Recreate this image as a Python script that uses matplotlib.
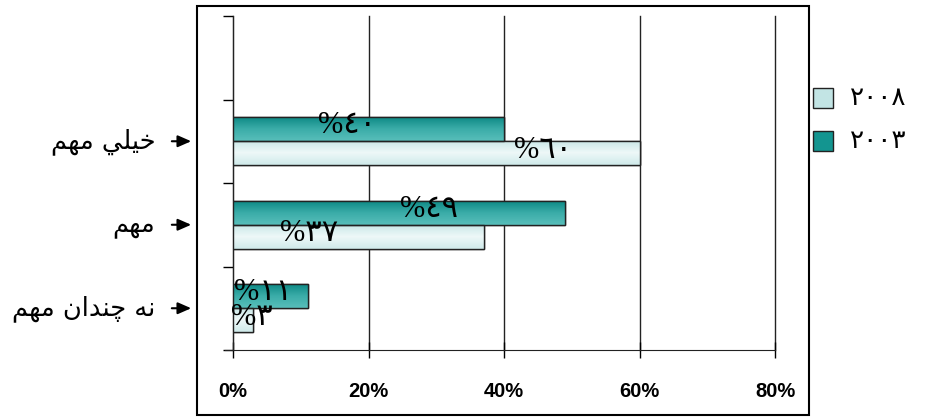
import matplotlib
matplotlib.use('Agg')
import matplotlib.pyplot as plt
from matplotlib.patches import Rectangle
from matplotlib.colors import LinearSegmentedColormap
import matplotlib.transforms as mtransforms
import numpy as np

# categories, bottom to top (Persian, pre-shaped in visual order)
categories = ['\uFEE2\uFEEC\uFEE3 \uFEE5\uFE8D\uFEAA\uFEE8\uFB7C \uFEEA\uFEE7',  # نه چندان مهم
              '\uFEE2\uFEEC\uFEE3',                                              # مهم
              '\uFEE2\uFEEC\uFEE3 \uFEF2\uFEE0\uFEF4\uFEA7']                     # خيلي مهم
series_names = ['2008', '2003']
values_2008 = [3, 37, 60]
values_2003 = [11, 49, 40]
# where the value labels sit along the bars (percent)
label_x_2008 = [2.8, 11.2, 45.8]
label_x_2003 = [4.4, 28.9, 16.8]
xticks = [0, 20, 40, 60, 80]

AR_DIGITS = str.maketrans('0123456789', '\u0660\u0661\u0662\u0663\u0664\u0665\u0666\u0667\u0668\u0669')


def ar_num(v):
    return str(v).translate(AR_DIGITS)


fig = plt.figure(figsize=(9.26, 4.18), dpi=100)
ax = fig.add_axes([233 / 926, 1 - 350 / 418, 542 / 926, 334 / 418])

# outer frame around the chart
fig.patches.append(Rectangle((197 / 926, 1 - 415 / 418), 612 / 926, 409 / 418,
                             transform=fig.transFigure, fill=False,
                             edgecolor='black', linewidth=1.5, zorder=0))

y = np.arange(len(categories))
h = 0.29
bars_2003 = ax.barh(y + h / 2, values_2003, height=h, color='#1a9b97',
                    edgecolor='#222222', linewidth=1.0, zorder=3)
bars_2008 = ax.barh(y - h / 2, values_2008, height=h, color='#d6eeee',
                    edgecolor='#222222', linewidth=1.0, zorder=3)

cm_2003 = LinearSegmentedColormap.from_list('c03', ['#58bebA', '#3aaca8', '#0a8682'])
cm_2008 = LinearSegmentedColormap.from_list('c08', ['#cfeaea', '#eef8f8', '#c8e7e7'])
grad = np.linspace(0, 1, 64).reshape(-1, 1)
for bars, cm in [(bars_2003, cm_2003), (bars_2008, cm_2008)]:
    for b in bars:
        x0, y0, w, hh = b.get_x(), b.get_y(), b.get_width(), b.get_height()
        im = ax.imshow(grad, extent=(x0, x0 + w, y0, y0 + hh), origin='lower',
                       cmap=cm, aspect='auto', zorder=3.5)
        im.set_clip_path(b)
    # redraw the outlines on top
    for b in bars:
        ax.add_patch(Rectangle((b.get_x(), b.get_y()), b.get_width(), b.get_height(),
                               fill=False, edgecolor='#222222', linewidth=1.0, zorder=4))

lab_font = ['Liberation Serif', 'DejaVu Sans']
for vals, lx, off in [(values_2003, label_x_2003, h / 2), (values_2008, label_x_2008, -h / 2)]:
    for i, v in enumerate(vals):
        ax.text(lx[i], y[i] + off + 0.04, '%' + ar_num(v), ha='center', va='center',
                fontsize=22, family=lab_font, color='black', zorder=5)

ax.set_xlim(0, 80)
ax.set_ylim(-0.5, 3.5)
ax.set_xticks(xticks)
ax.set_xticklabels([f'{t}%' for t in xticks], fontsize=14.5, fontweight='bold',
                   family=['Liberation Sans', 'DejaVu Sans'])
ax.tick_params(axis='x', direction='inout', length=12, width=1, pad=17)
ax.set_yticks(np.arange(-0.5, 3.6, 1.0))
ax.set_yticklabels([])
ax.tick_params(axis='y', direction='out', length=7, width=1)
ax.grid(axis='x', color='#222222', linewidth=1.0, zorder=1)
for gl in ax.get_xgridlines():
    gl.set_clip_on(False)
ax.spines['top'].set_visible(False)
ax.spines['right'].set_visible(False)
ax.spines['left'].set_color('#222222')
ax.spines['bottom'].set_color('#222222')
ax.spines['bottom'].set_bounds(-1.2, 80)

# category labels with arrows to the left of the axis
trans = mtransforms.blended_transform_factory(ax.transAxes, ax.transData)
for i, c in enumerate(categories):
    ax.text(-0.143, y[i], c, transform=trans, ha='right', va='center',
            fontsize=18.5, family='DejaVu Sans', clip_on=False)
    ax.annotate('', xy=(-0.072, y[i]), xycoords=trans,
                xytext=(-0.118, y[i]), textcoords=trans,
                arrowprops=dict(arrowstyle='-|>,head_length=0.8,head_width=0.35',
                                color='black', lw=1.5))

# legend
leg_colors = ['#c2e4e4', '#139590']
for k, (name, col) in enumerate(zip(series_names, leg_colors)):
    yy = 1 - (98 + 43 * k) / 418
    fig.patches.append(Rectangle((813 / 926, yy - 10 / 418), 20 / 926, 20 / 418,
                                 transform=fig.transFigure, facecolor=col,
                                 edgecolor='#222222', linewidth=1.0))
    fig.text(850 / 926, yy, ar_num(name), ha='left', va='center', fontsize=19,
             family=['DejaVu Sans'])

fig.savefig('out.png', dpi=100)
